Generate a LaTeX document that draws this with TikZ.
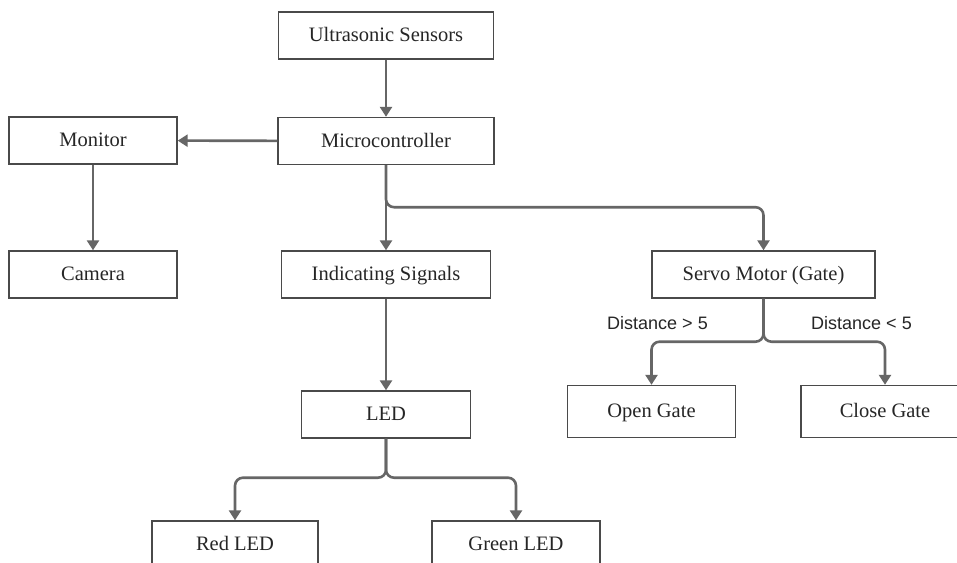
\documentclass[tikz,border=0pt]{standalone}
\usepackage{fontspec}
\setmainfont{Liberation Serif}
\newfontfamily\condfont{Liberation Sans}
\usepackage{xcolor}
\usetikzlibrary{arrows, arrows.meta}
\usetikzlibrary{calc}
\definecolor{boxline}{HTML}{4A4A4A}
\definecolor{flowline}{HTML}{666666}
\tikzset{block/.style={draw=boxline, line width=1.4pt, fill=white, minimum width=168pt, minimum height=47pt, inner sep=0pt, text height=16.5pt, text depth=4pt, text=black!85, font=\fontsize{20.5}{24}\selectfont}}
\tikzset{flow/.style={flowline, line width=2.6pt, rounded corners=8pt, -{Triangle[length=10pt, width=12pt]}}}
\tikzset{cond/.style={text=black!85, font=\condfont\fontsize{18}{21}\selectfont}}

\begin{document}
\begin{tikzpicture}[x=1pt, y=-1pt]
            \useasboundingbox (0,0) rectangle (957,562);
            \fill[white] (0,0) rectangle (957,562);
            \clip (0,0) rectangle (957,562);
            \node[block, minimum width=215pt] (sensors) at (386,35.5) {Ultrasonic Sensors};
            \node[block, minimum width=216pt] (micro) at (386,141) {Microcontroller};
            \node[block] (monitor) at (93,140.5) {Monitor};
            \node[block] (camera) at (93,274.5) {Camera};
            \node[block, minimum width=209pt] (signals) at (386,274.5) {Indicating Signals};
            \node[block, minimum width=223pt] (servo) at (763.5,274.5) {Servo Motor (Gate)};
            \node[block, minimum width=169pt] (led) at (386,414.5) {LED};
            \node[block, minimum height=52pt] (opengate) at (651.5,411.5) {Open Gate};
            \node[block, minimum height=52pt] (closegate) at (885,411.5) {Close Gate};
            \node[block, minimum width=166pt] (redled) at (235,544.5) {Red LED};
            \node[block] (greenled) at (516,544.5) {Green LED};
            \node[cond] (dgreater) at (657.5,323) {Distance > 5};
            \node[cond] (dless) at (861.5,323) {Distance < 5};
            \draw[flow] (sensors) -- (micro);
            \draw[flow] (micro) -- (monitor);
            \draw[flow] (monitor) -- (camera);
            \draw[flow] (micro) -- (signals);
            \draw[flow] (micro.south) -- ++(0,42) -| (servo.north);
            \draw[flow] (signals) -- (led);
            \draw[flow] (led.south) -- ++(0,39) -| (redled.north);
            \draw[flow] (led.south) -- ++(0,39) -| (greenled.north);
            \draw[flow] (servo.south) -- ++(0,43) -| (opengate.north);
            \draw[flow] (servo.south) -- ++(0,43) -| (closegate.north);
        \end{tikzpicture}
\end{document}
